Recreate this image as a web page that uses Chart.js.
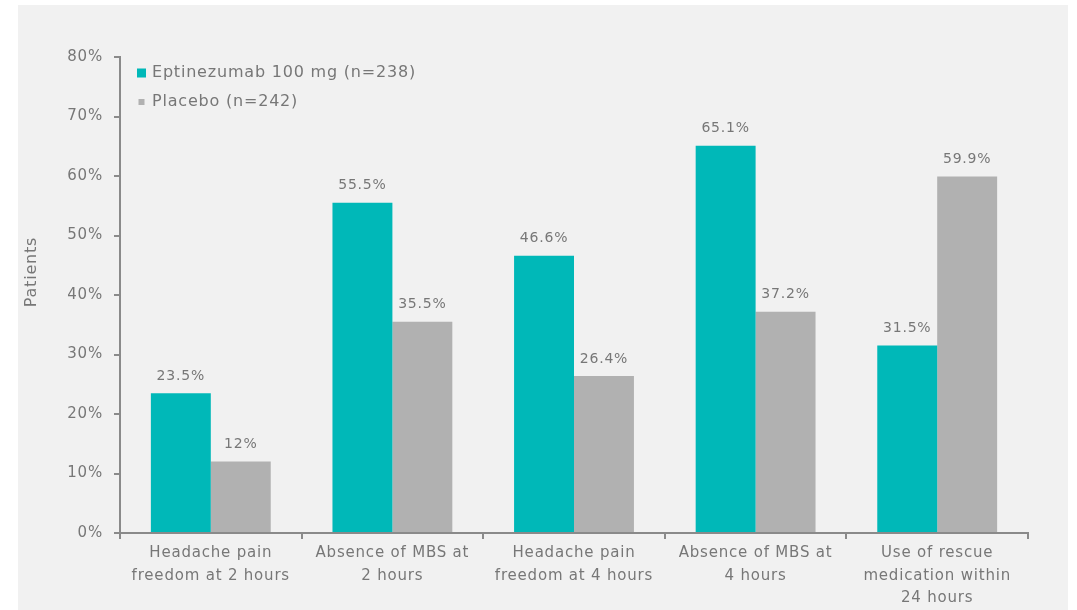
<!DOCTYPE html>
<html>
<head>
<meta charset="utf-8">
<script src="https://cdn.jsdelivr.net/npm/chart.js@4/dist/chart.umd.min.js"></script>
<style>
  html, body { margin: 0; padding: 0; background: #fff; }
  #wrap { width: 1077px; height: 610px; position: relative; }
</style>
</head>
<body>
<div id="wrap"><canvas id="outcomeChart" width="1077" height="610"></canvas></div>
<script>
// endpoint categories (multi-line labels)
var categories = [
    ['Headache pain', 'freedom at 2 hours'],
    ['Absence of MBS at', '2 hours'],
    ['Headache pain', 'freedom at 4 hours'],
    ['Absence of MBS at', '4 hours'],
    ['Use of rescue', 'medication within', '24 hours']
];
var seriesNames = ['Eptinezumab 100 mg (n=238)', 'Placebo (n=242)'];
var eptinezumab = [23.5, 55.5, 46.6, 65.1, 31.5];
var placebo = [12, 35.5, 26.4, 37.2, 59.9];
var yTicks = [0, 10, 20, 30, 40, 50, 60, 70, 80];
var yTitle = 'Patients';

var TEAL = '#00b8b8';
var GREY = '#b1b1b1';
var TEXT = '#777777';
var AXIS = '#8a8a8a';
var FONT = "'DejaVu Sans', Verdana, sans-serif";
var TRACK = '0.8px';

// light grey panel behind the chart, plus wider letter spacing for all text
var panelBg = {
    id: 'panelBg',
    beforeLayout: function(chart) { chart.ctx.letterSpacing = TRACK; },
    beforeDraw: function(chart) {
        var c = chart.ctx;
        c.letterSpacing = TRACK;
        c.save();
        c.fillStyle = '#f1f1f1';
        c.fillRect(18, 5, 1050, 605);
        c.restore();
    }
};

// value labels above each bar
var barValues = {
    id: 'barValues',
    afterDatasetsDraw: function(chart) {
        var c = chart.ctx;
        c.save();
        c.font = '14px ' + FONT;
        c.fillStyle = TEXT;
        c.textAlign = 'center';
        c.textBaseline = 'middle';
        chart.data.datasets.forEach(function(ds, i) {
            chart.getDatasetMeta(i).data.forEach(function(bar, j) {
                c.fillText(ds.data[j] + '%', bar.x, bar.y - 17);
            });
        });
        c.restore();
    }
};

// legend in the top-left corner of the plot and the rotated axis title
var cornerLegend = {
    id: 'cornerLegend',
    afterDraw: function(chart) {
        var c = chart.ctx;
        var area = chart.chartArea;
        c.save();
        c.font = '16px ' + FONT;
        c.textBaseline = 'middle';
        chart.data.datasets.forEach(function(ds, i) {
            var y = area.top + 16 + i * 29;
            var s = i === 0 ? 9 : 6;
            c.fillStyle = ds.backgroundColor;
            c.fillRect(area.left + 17 + (9 - s) / 2, y - s / 2, s, s);
            c.fillStyle = TEXT;
            c.fillText(ds.label, area.left + 32, y);
        });
        c.translate(32, 272);
        c.rotate(-Math.PI / 2);
        c.textAlign = 'center';
        c.font = '16px ' + FONT;
        c.fillText(yTitle, 0, 0);
        c.restore();
    }
};

var ctx = document.getElementById('outcomeChart').getContext('2d');
var chart = new Chart(ctx, {
    type: 'bar',
    data: {
        labels: categories,
        datasets: [
            { label: seriesNames[0], data: eptinezumab, backgroundColor: TEAL },
            { label: seriesNames[1], data: placebo, backgroundColor: GREY }
        ]
    },
    options: {
        responsive: false,
        animation: false,
        layout: { padding: { left: 0, top: 57, right: 49, bottom: 0 } },
        datasets: { bar: { categoryPercentage: 0.66, barPercentage: 1 } },
        plugins: {
            legend: { display: false },
            tooltip: { enabled: false }
        },
        scales: {
            x: {
                grid: { drawOnChartArea: false, drawTicks: true, tickLength: 6, color: AXIS, lineWidth: 2 },
                border: { display: true, color: AXIS, width: 2 },
                ticks: {
                    color: TEXT, padding: 3, maxRotation: 0, autoSkip: false,
                    font: { family: FONT, size: 15, lineHeight: 1.5 }
                },
                afterFit: function(scale) { scale.height = 77; }
            },
            y: {
                min: 0,
                max: 80,
                afterBuildTicks: function(scale) {
                    scale.ticks = yTicks.map(function(v) { return { value: v }; });
                },
                grid: { drawOnChartArea: false, drawTicks: true, tickLength: 6, color: AXIS, lineWidth: 2 },
                border: { display: true, color: AXIS, width: 2 },
                ticks: {
                    color: TEXT, padding: 11,
                    font: { family: FONT, size: 15 },
                    callback: function(v) { return v + '%'; }
                },
                afterFit: function(scale) { scale.width = 120; }
            }
        }
    },
    plugins: [panelBg, barValues, cornerLegend]
});
</script>
</body>
</html>
